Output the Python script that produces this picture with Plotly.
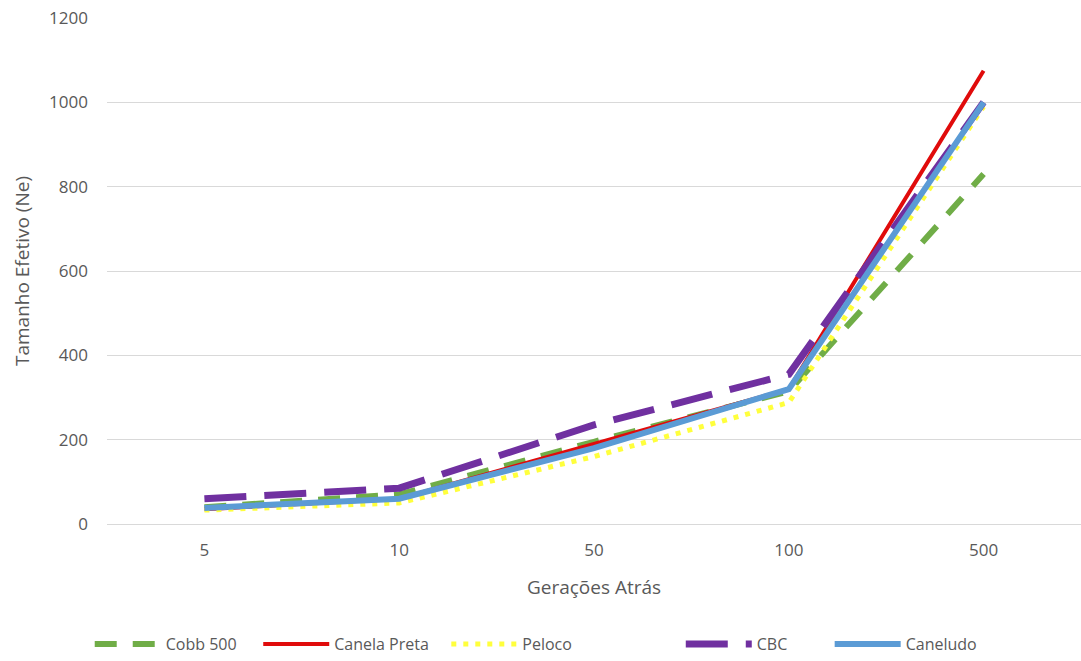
import plotly.graph_objects as go

categories = ["5", "10", "50", "100", "500"]
cobb_500 = [40, 70, 195, 315, 830]
canela_preta = [35, 60, 190, 320, 1075]
peloco = [33, 50, 160, 288, 990]
cbc = [60, 85, 235, 355, 1000]
caneludo = [38, 60, 180, 320, 1000]

series = [
    ("Cobb 500", cobb_500, "#70AD47", "22px,16px", 6, 4),
    ("Canela Preta", canela_preta, "#E00B0B", "solid", 4, 3),
    ("Peloco", peloco, "#FFFF3C", "5px,7px", 5, 25),
    ("CBC", cbc, "#7030A0", "42px,18px", 7, 9),
    ("Caneludo", caneludo, "#5B9BD5", "solid", 6, 0),
]

fig = go.Figure()
for name, vals, color, dash, width, npad in series:
    fig.add_trace(go.Scatter(
        x=categories, y=vals, name=name + "\u00a0" * npad, mode="lines",
        line=dict(color=color, dash=dash, width=width),
    ))

font_color = "#595959"
fig.update_layout(
    width=1081, height=661,
    margin=dict(l=107, r=0, t=18, b=137),
    paper_bgcolor="white", plot_bgcolor="white",
    font=dict(family="Open Sans", size=16, color=font_color),
    xaxis=dict(
        type="category", range=[-0.5, 4.5], showgrid=False, zeroline=False,
        showline=False, ticks="", ticklabelstandoff=14,
        title=dict(text="Gerações Atrás", standoff=20),
        tickfont=dict(size=17, color=font_color),
    ),
    yaxis=dict(
        range=[0, 1200], dtick=200, gridcolor="#D9D9D9", gridwidth=1,
        zeroline=True, zerolinecolor="#D9D9D9", zerolinewidth=1,
        showline=False, ticks="", ticklabelstandoff=18,
        title=dict(text="Tamanho Efetivo (Ne)", standoff=14),
        tickfont=dict(size=17, color=font_color),
    ),
    legend=dict(
        orientation="h", xref="container", x=0.083, xanchor="left",
        yref="container", y=0.0, yanchor="bottom",
        itemwidth=66, font=dict(size=16, color=font_color),
        traceorder="normal",
    ),
    showlegend=True,
)

fig.write_html("out.html")
